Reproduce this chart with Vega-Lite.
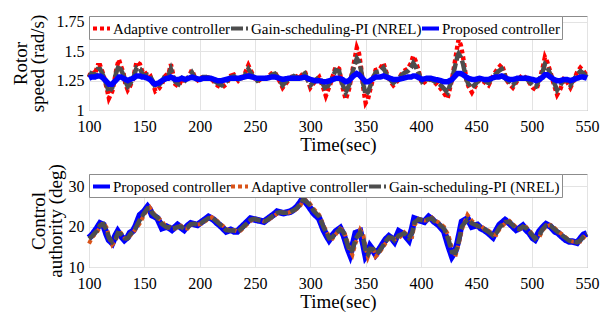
{
 "$schema": "https://vega.github.io/schema/vega-lite/v6.json",
 "padding": {"left": 10, "top": 13, "right": 5, "bottom": 2},
 "background": "white",
 "spacing": 8,
 "config": {
  "font": "Liberation Serif",
  "view": {"stroke": "#8c8c8c", "strokeWidth": 1},
  "axis": {"labelFont": "Liberation Serif", "labelFontSize": 16, "labelColor": "#000", "titleFont": "Liberation Serif", "titleFontSize": 19, "titleFontWeight": "normal", "titleColor": "#000", "gridColor": "#e3e3e3", "domain": false, "ticks": false, "labelPadding": 5, "titlePadding": 4, "titleLineHeight": 17, "labelFlush": false},
  "axisX": {"labelPadding": 8, "titlePadding": 1},
  "legend": {"columnPadding": -8, "gridAlign": "none"}
 },
 "resolve": {"scale": {"color": "independent", "strokeDash": "independent", "x": "independent", "y": "independent"}, "legend": {"color": "independent", "strokeDash": "independent"}},
 "vconcat": [
  {
   "width": 498, "height": 94,
   "data": {"values": [
{"t":100,"a":1.28,"g":1.28,"p":1.27},{"t":102,"a":1.33,"g":1.31,"p":1.28},{"t":105,"a":1.30,"g":1.29,"p":1.28},{"t":108,"a":1.38,"g":1.35,"p":1.29},{"t":110,"a":1.38,"g":1.35,"p":1.29},{"t":113,"a":1.30,"g":1.29,"p":1.27},{"t":116,"a":1.19,"g":1.21,"p":1.24},{"t":118,"a":1.10,"g":1.15,"p":1.22},{"t":121,"a":1.16,"g":1.19,"p":1.22},{"t":123,"a":1.25,"g":1.26,"p":1.24},{"t":125,"a":1.36,"g":1.33,"p":1.26},{"t":127,"a":1.43,"g":1.38,"p":1.28},{"t":129,"a":1.37,"g":1.34,"p":1.28},{"t":131,"a":1.32,"g":1.30,"p":1.27},{"t":133,"a":1.22,"g":1.24,"p":1.26},{"t":135,"a":1.17,"g":1.20,"p":1.25},{"t":137,"a":1.20,"g":1.22,"p":1.26},{"t":140,"a":1.27,"g":1.27,"p":1.27},{"t":143,"a":1.41,"g":1.36,"p":1.29},{"t":146,"a":1.39,"g":1.35,"p":1.29},{"t":148,"a":1.33,"g":1.31,"p":1.28},{"t":150,"a":1.30,"g":1.29,"p":1.28},{"t":153,"a":1.32,"g":1.30,"p":1.27},{"t":155,"a":1.30,"g":1.29,"p":1.26},{"t":158,"a":1.22,"g":1.24,"p":1.23},{"t":160,"a":1.16,"g":1.19,"p":1.22},{"t":163,"a":1.18,"g":1.21,"p":1.23},{"t":166,"a":1.22,"g":1.24,"p":1.25},{"t":168,"a":1.28,"g":1.28,"p":1.26},{"t":170,"a":1.30,"g":1.29,"p":1.27},{"t":172,"a":1.31,"g":1.30,"p":1.27},{"t":174,"a":1.39,"g":1.35,"p":1.28},{"t":176,"a":1.30,"g":1.29,"p":1.27},{"t":178,"a":1.22,"g":1.24,"p":1.26},{"t":181,"a":1.20,"g":1.22,"p":1.26},{"t":184,"a":1.27,"g":1.27,"p":1.27},{"t":187,"a":1.24,"g":1.25,"p":1.26},{"t":190,"a":1.28,"g":1.28,"p":1.27},{"t":193,"a":1.34,"g":1.32,"p":1.28},{"t":196,"a":1.27,"g":1.27,"p":1.27},{"t":200,"a":1.24,"g":1.25,"p":1.26},{"t":203,"a":1.29,"g":1.28,"p":1.27},{"t":206,"a":1.28,"g":1.28,"p":1.27},{"t":210,"a":1.27,"g":1.27,"p":1.27},{"t":213,"a":1.24,"g":1.25,"p":1.26},{"t":216,"a":1.21,"g":1.23,"p":1.25},{"t":220,"a":1.19,"g":1.21,"p":1.25},{"t":224,"a":1.22,"g":1.24,"p":1.26},{"t":228,"a":1.29,"g":1.28,"p":1.27},{"t":231,"a":1.30,"g":1.29,"p":1.27},{"t":235,"a":1.25,"g":1.26,"p":1.27},{"t":240,"a":1.29,"g":1.28,"p":1.28},{"t":244,"a":1.38,"g":1.35,"p":1.29},{"t":248,"a":1.30,"g":1.29,"p":1.28},{"t":252,"a":1.24,"g":1.25,"p":1.27},{"t":256,"a":1.27,"g":1.27,"p":1.27},{"t":260,"a":1.27,"g":1.27,"p":1.27},{"t":265,"a":1.31,"g":1.30,"p":1.28},{"t":268,"a":1.32,"g":1.31,"p":1.28},{"t":272,"a":1.25,"g":1.26,"p":1.27},{"t":275,"a":1.19,"g":1.21,"p":1.26},{"t":280,"a":1.25,"g":1.26,"p":1.27},{"t":285,"a":1.30,"g":1.29,"p":1.27},{"t":290,"a":1.27,"g":1.27,"p":1.27},{"t":295,"a":1.33,"g":1.31,"p":1.28},{"t":300,"a":1.19,"g":1.21,"p":1.26},{"t":304,"a":1.24,"g":1.25,"p":1.25},{"t":308,"a":1.28,"g":1.28,"p":1.25},{"t":312,"a":1.18,"g":1.21,"p":1.24},{"t":314,"a":1.12,"g":1.17,"p":1.24},{"t":318,"a":1.22,"g":1.24,"p":1.25},{"t":323,"a":1.37,"g":1.34,"p":1.27},{"t":326,"a":1.35,"g":1.33,"p":1.27},{"t":329,"a":1.20,"g":1.22,"p":1.26},{"t":332,"a":1.09,"g":1.15,"p":1.24},{"t":335,"a":1.18,"g":1.21,"p":1.25},{"t":339,"a":1.38,"g":1.35,"p":1.29},{"t":342,"a":1.53,"g":1.44,"p":1.31},{"t":344,"a":1.48,"g":1.41,"p":1.30},{"t":346,"a":1.35,"g":1.33,"p":1.28},{"t":348,"a":1.18,"g":1.21,"p":1.26},{"t":350,"a":1.06,"g":1.13,"p":1.24},{"t":352,"a":1.09,"g":1.15,"p":1.24},{"t":354,"a":1.17,"g":1.20,"p":1.25},{"t":357,"a":1.28,"g":1.28,"p":1.27},{"t":359,"a":1.34,"g":1.32,"p":1.28},{"t":363,"a":1.35,"g":1.33,"p":1.28},{"t":366,"a":1.40,"g":1.36,"p":1.29},{"t":369,"a":1.31,"g":1.30,"p":1.28},{"t":372,"a":1.25,"g":1.26,"p":1.27},{"t":375,"a":1.21,"g":1.23,"p":1.26},{"t":379,"a":1.25,"g":1.26,"p":1.26},{"t":384,"a":1.33,"g":1.31,"p":1.27},{"t":388,"a":1.35,"g":1.33,"p":1.28},{"t":391,"a":1.40,"g":1.36,"p":1.28},{"t":393,"a":1.46,"g":1.40,"p":1.29},{"t":395,"a":1.42,"g":1.37,"p":1.29},{"t":397,"a":1.36,"g":1.33,"p":1.28},{"t":401,"a":1.22,"g":1.24,"p":1.26},{"t":405,"a":1.25,"g":1.26,"p":1.27},{"t":409,"a":1.26,"g":1.26,"p":1.27},{"t":413,"a":1.23,"g":1.24,"p":1.26},{"t":418,"a":1.18,"g":1.21,"p":1.25},{"t":421,"a":1.14,"g":1.18,"p":1.24},{"t":424,"a":1.10,"g":1.15,"p":1.24},{"t":428,"a":1.26,"g":1.26,"p":1.26},{"t":431,"a":1.43,"g":1.38,"p":1.29},{"t":433,"a":1.55,"g":1.46,"p":1.31},{"t":434,"a":1.60,"g":1.48,"p":1.31},{"t":436,"a":1.55,"g":1.45,"p":1.31},{"t":438,"a":1.45,"g":1.39,"p":1.30},{"t":441,"a":1.26,"g":1.26,"p":1.28},{"t":443,"a":1.20,"g":1.22,"p":1.27},{"t":446,"a":1.15,"g":1.19,"p":1.26},{"t":449,"a":1.20,"g":1.22,"p":1.26},{"t":453,"a":1.26,"g":1.26,"p":1.27},{"t":457,"a":1.24,"g":1.25,"p":1.26},{"t":461,"a":1.21,"g":1.23,"p":1.26},{"t":464,"a":1.27,"g":1.27,"p":1.27},{"t":467,"a":1.32,"g":1.30,"p":1.28},{"t":470,"a":1.36,"g":1.33,"p":1.28},{"t":473,"a":1.39,"g":1.35,"p":1.29},{"t":475,"a":1.33,"g":1.31,"p":1.28},{"t":477,"a":1.26,"g":1.26,"p":1.27},{"t":480,"a":1.22,"g":1.24,"p":1.26},{"t":483,"a":1.19,"g":1.21,"p":1.26},{"t":487,"a":1.25,"g":1.26,"p":1.27},{"t":492,"a":1.30,"g":1.29,"p":1.27},{"t":496,"a":1.26,"g":1.26,"p":1.27},{"t":501,"a":1.19,"g":1.21,"p":1.26},{"t":504,"a":1.17,"g":1.20,"p":1.25},{"t":507,"a":1.25,"g":1.26,"p":1.26},{"t":510,"a":1.36,"g":1.33,"p":1.28},{"t":512,"a":1.45,"g":1.39,"p":1.30},{"t":514,"a":1.41,"g":1.37,"p":1.30},{"t":517,"a":1.32,"g":1.30,"p":1.28},{"t":520,"a":1.22,"g":1.24,"p":1.26},{"t":523,"a":1.13,"g":1.17,"p":1.25},{"t":526,"a":1.18,"g":1.21,"p":1.25},{"t":529,"a":1.26,"g":1.26,"p":1.26},{"t":532,"a":1.24,"g":1.25,"p":1.26},{"t":535,"a":1.19,"g":1.21,"p":1.25},{"t":538,"a":1.25,"g":1.26,"p":1.26},{"t":541,"a":1.32,"g":1.30,"p":1.27},{"t":544,"a":1.36,"g":1.33,"p":1.28},{"t":547,"a":1.33,"g":1.31,"p":1.28},{"t":550,"a":1.29,"g":1.28,"p":1.27}
   ]},
   "transform": [{"fold": ["a", "g", "p"], "as": ["k", "v"]}],
   "encoding": {
    "x": {"field": "t", "type": "quantitative", "scale": {"domain": [100, 550], "nice": false, "zero": false}, "axis": {"values": [100,150,200,250,300,350,400,450,500,550], "title": "Time(sec)"}},
    "y": {"field": "v", "type": "quantitative", "scale": {"domain": [1, 1.8], "nice": false, "zero": false}, "axis": {"values": [1, 1.25, 1.5, 1.75], "titlePadding": 9, "labelExpr": "datum.value == 1 ? '1' : datum.value == 1.25 ? '1.25' : datum.value == 1.5 ? '1.5' : '1.75'", "title": ["Rotor", "speed (rad/s)"]}},
    "color": {"field": "k", "type": "nominal", "scale": {"domain": ["a", "g", "p"], "range": ["#ff0000", "#4d4d4d", "#0000ff"]},
     "legend": {"orient": "none", "legendX": 0, "legendY": 0, "direction": "horizontal", "title": null, "fillColor": "white", "strokeColor": "#8c8c8c", "padding": 2, "labelFont": "Liberation Serif", "labelFontSize": 15, "labelColor": "#000", "symbolType": "stroke", "symbolSize": 289, "symbolStrokeWidth": 4, "labelOffset": 1, "columnPadding": -8, "labelLimit": 300,
      "labelExpr": "datum.label == 'a' ? 'Adaptive controller' : datum.label == 'g' ? 'Gain-scheduling-PI (NREL)' : 'Proposed controller'"}},
    "strokeDash": {"field": "k", "type": "nominal", "scale": {"domain": ["a", "g", "p"], "range": [[4, 3], [12, 3], [1, 0]]},
     "legend": {"orient": "none", "legendX": 0, "legendY": 0, "direction": "horizontal", "title": null, "fillColor": "white", "strokeColor": "#8c8c8c", "padding": 2, "labelFont": "Liberation Serif", "labelFontSize": 15, "labelColor": "#000", "symbolType": "stroke", "symbolSize": 289, "symbolStrokeWidth": 4, "labelOffset": 1, "columnPadding": -8, "labelLimit": 300,
      "labelExpr": "datum.label == 'a' ? 'Adaptive controller' : datum.label == 'g' ? 'Gain-scheduling-PI (NREL)' : 'Proposed controller'"}}
   },
   "layer": [
    {"transform": [{"filter": "datum.k == 'a'"}], "mark": {"type": "line", "strokeWidth": 4.5, "strokeCap": "butt"}},
    {"transform": [{"filter": "datum.k == 'g'"}], "mark": {"type": "line", "strokeWidth": 4.5, "strokeCap": "butt"}},
    {"transform": [{"filter": "datum.k == 'p'"}], "mark": {"type": "line", "strokeWidth": 5.5}}
   ]
  },
  {
   "width": 498, "height": 93,
   "data": {"values": [
{"t":100,"p":17.2,"o":15.8,"g":17.0},{"t":103,"p":18.0,"o":17.4,"g":17.7},{"t":107,"p":19.5,"o":18.5,"g":18.9},{"t":110,"p":20.8,"o":19.9,"g":20.3},{"t":113,"p":20.4,"o":21.0,"g":20.6},{"t":116,"p":18.0,"o":19.7,"g":19.0},{"t":118,"p":16.7,"o":17.6,"g":17.2},{"t":121,"p":15.9,"o":15.5,"g":16.2},{"t":124,"p":17.8,"o":16.5,"g":17.0},{"t":126,"p":18.8,"o":18.1,"g":18.4},{"t":129,"p":17.6,"o":18.4,"g":18.1},{"t":132,"p":16.7,"o":17.3,"g":17.1},{"t":135,"p":17.4,"o":16.9,"g":17.1},{"t":137,"p":18.4,"o":17.7,"g":18.0},{"t":140,"p":19.0,"o":18.6,"g":18.8},{"t":142,"p":20.0,"o":19.3,"g":19.6},{"t":146,"p":22.8,"o":20.8,"g":21.7},{"t":150,"p":23.8,"o":23.1,"g":23.4},{"t":153,"p":24.9,"o":24.1,"g":24.5},{"t":155,"p":24.2,"o":24.7,"g":24.5},{"t":157,"p":22.8,"o":23.8,"g":23.4},{"t":160,"p":22.4,"o":22.7,"g":22.6},{"t":162,"p":22.0,"o":22.3,"g":22.2},{"t":166,"p":19.6,"o":21.3,"g":20.6},{"t":170,"p":20.0,"o":19.7,"g":19.8},{"t":173,"p":19.6,"o":19.9,"g":19.8},{"t":175,"p":19.2,"o":19.5,"g":19.4},{"t":180,"p":20.4,"o":19.6,"g":19.9},{"t":183,"p":19.8,"o":20.2,"g":20.0},{"t":186,"p":19.2,"o":19.6,"g":19.4},{"t":189,"p":20.2,"o":19.5,"g":19.8},{"t":192,"p":20.8,"o":20.4,"g":20.6},{"t":195,"p":20.6,"o":20.7,"g":20.7},{"t":198,"p":20.4,"o":20.5,"g":20.5},{"t":201,"p":21.0,"o":20.6,"g":20.8},{"t":204,"p":21.6,"o":21.2,"g":21.4},{"t":208,"p":22.4,"o":21.8,"g":22.1},{"t":211,"p":22.0,"o":22.3,"g":22.2},{"t":213,"p":21.6,"o":21.9,"g":21.8},{"t":216,"p":20.8,"o":21.4,"g":21.1},{"t":218,"p":20.4,"o":20.7,"g":20.6},{"t":221,"p":19.6,"o":20.2,"g":19.9},{"t":224,"p":18.8,"o":19.4,"g":19.1},{"t":228,"p":19.2,"o":18.9,"g":19.0},{"t":231,"p":18.8,"o":19.1,"g":19.0},{"t":234,"p":18.8,"o":18.8,"g":18.8},{"t":237,"p":19.6,"o":19.0,"g":19.3},{"t":240,"p":20.4,"o":19.8,"g":20.1},{"t":243,"p":21.2,"o":20.6,"g":20.9},{"t":246,"p":22.0,"o":21.4,"g":21.7},{"t":249,"p":21.8,"o":21.9,"g":21.9},{"t":252,"p":21.6,"o":21.7,"g":21.7},{"t":255,"p":21.4,"o":21.5,"g":21.5},{"t":258,"p":21.2,"o":21.3,"g":21.3},{"t":261,"p":21.8,"o":21.4,"g":21.6},{"t":264,"p":22.4,"o":22.0,"g":22.2},{"t":267,"p":23.0,"o":22.6,"g":22.8},{"t":270,"p":23.7,"o":23.2,"g":23.4},{"t":273,"p":23.5,"o":23.6,"g":23.6},{"t":276,"p":23.3,"o":23.4,"g":23.4},{"t":279,"p":23.5,"o":23.4,"g":23.4},{"t":282,"p":23.7,"o":23.6,"g":23.6},{"t":285,"p":24.2,"o":23.9,"g":24.0},{"t":288,"p":24.9,"o":24.4,"g":24.6},{"t":291,"p":26.0,"o":25.2,"g":25.6},{"t":293,"p":26.9,"o":26.3,"g":26.5},{"t":295,"p":26.3,"o":26.7,"g":26.5},{"t":299,"p":24.9,"o":25.9,"g":25.5},{"t":303,"p":23.3,"o":24.4,"g":23.9},{"t":308,"p":22.0,"o":22.9,"g":22.5},{"t":310,"p":20.6,"o":21.6,"g":21.2},{"t":312,"p":19.2,"o":20.2,"g":19.8},{"t":315,"p":17.6,"o":18.7,"g":18.2},{"t":317,"p":16.7,"o":17.3,"g":17.1},{"t":320,"p":17.8,"o":17.0,"g":17.4},{"t":323,"p":18.8,"o":18.1,"g":18.4},{"t":327,"p":19.6,"o":19.5,"g":19.3},{"t":330,"p":18.0,"o":19.1,"g":18.6},{"t":332,"p":16.3,"o":17.5,"g":17.0},{"t":334,"p":14.5,"o":15.8,"g":15.2},{"t":336,"p":13.1,"o":14.1,"g":13.7},{"t":338,"p":15.0,"o":13.0,"g":14.2},{"t":341,"p":18.4,"o":16.0,"g":17.0},{"t":345,"p":18.8,"o":19.2,"g":18.6},{"t":348,"p":15.5,"o":17.8,"g":16.8},{"t":350,"p":12.7,"o":14.7,"g":13.8},{"t":352,"p":13.5,"o":12.5,"g":13.2},{"t":354,"p":15.1,"o":14.0,"g":14.5},{"t":357,"p":14.0,"o":14.8,"g":14.4},{"t":359,"p":13.1,"o":12.6,"g":13.5},{"t":362,"p":14.2,"o":13.4,"g":13.8},{"t":365,"p":15.5,"o":14.6,"g":15.0},{"t":368,"p":16.8,"o":15.9,"g":16.3},{"t":371,"p":17.6,"o":17.0,"g":17.3},{"t":374,"p":17.0,"o":17.4,"g":17.2},{"t":376,"p":16.3,"o":16.8,"g":16.6},{"t":380,"p":18.8,"o":17.1,"g":17.8},{"t":385,"p":18.0,"o":18.6,"g":18.3},{"t":389,"p":16.7,"o":17.6,"g":17.2},{"t":392,"p":19.5,"o":17.5,"g":18.4},{"t":394,"p":22.0,"o":20.3,"g":21.0},{"t":398,"p":21.6,"o":21.9,"g":21.8},{"t":403,"p":21.2,"o":21.5,"g":21.4},{"t":407,"p":22.4,"o":21.6,"g":21.9},{"t":410,"p":21.8,"o":22.2,"g":22.0},{"t":412,"p":21.2,"o":21.6,"g":21.4},{"t":416,"p":20.4,"o":21.0,"g":20.7},{"t":421,"p":18.8,"o":19.9,"g":19.4},{"t":425,"p":15.1,"o":17.7,"g":16.6},{"t":428,"p":12.7,"o":14.4,"g":13.7},{"t":431,"p":14.0,"o":12.6,"g":13.5},{"t":433,"p":15.9,"o":14.6,"g":15.1},{"t":435,"p":18.5,"o":16.7,"g":17.5},{"t":437,"p":21.2,"o":19.3,"g":20.1},{"t":442,"p":22.0,"o":22.9,"g":21.7},{"t":446,"p":20.0,"o":21.4,"g":20.8},{"t":451,"p":20.4,"o":20.1,"g":20.2},{"t":454,"p":19.6,"o":20.2,"g":19.9},{"t":457,"p":19.2,"o":19.5,"g":19.4},{"t":461,"p":18.4,"o":19.0,"g":18.7},{"t":465,"p":17.4,"o":18.1,"g":17.8},{"t":468,"p":19.0,"o":17.9,"g":18.4},{"t":471,"p":20.4,"o":19.4,"g":19.8},{"t":476,"p":21.6,"o":20.8,"g":21.1},{"t":480,"p":20.8,"o":21.4,"g":21.1},{"t":483,"p":20.0,"o":20.6,"g":20.3},{"t":486,"p":19.2,"o":19.8,"g":19.5},{"t":489,"p":19.6,"o":19.3,"g":19.4},{"t":492,"p":20.2,"o":19.8,"g":20.0},{"t":495,"p":19.2,"o":19.9,"g":19.6},{"t":498,"p":18.4,"o":19.0,"g":18.7},{"t":501,"p":17.2,"o":18.0,"g":17.7},{"t":503,"p":16.8,"o":17.1,"g":17.0},{"t":507,"p":18.8,"o":17.4,"g":18.0},{"t":510,"p":19.8,"o":19.1,"g":19.4},{"t":513,"p":20.6,"o":20.0,"g":20.3},{"t":517,"p":20.0,"o":20.4,"g":20.2},{"t":521,"p":18.8,"o":19.6,"g":19.3},{"t":524,"p":18.4,"o":18.7,"g":18.6},{"t":527,"p":17.6,"o":18.2,"g":17.9},{"t":531,"p":16.7,"o":17.3,"g":17.1},{"t":534,"p":16.3,"o":16.6,"g":16.5},{"t":537,"p":16.3,"o":16.3,"g":16.3},{"t":541,"p":16.0,"o":16.2,"g":16.1},{"t":544,"p":17.0,"o":16.3,"g":16.6},{"t":547,"p":18.0,"o":17.3,"g":17.6},{"t":550,"p":18.3,"o":18.1,"g":18.2}
   ]},
   "transform": [{"fold": ["p", "o", "g"], "as": ["k", "v"]}],
   "encoding": {
    "x": {"field": "t", "type": "quantitative", "scale": {"domain": [100, 550], "nice": false, "zero": false}, "axis": {"values": [100,150,200,250,300,350,400,450,500,550], "title": "Time(sec)"}},
    "y": {"field": "v", "type": "quantitative", "scale": {"domain": [10, 33], "nice": false, "zero": false}, "axis": {"values": [10, 20, 30], "titlePadding": 3, "title": ["Control", "authority (deg)"]}},
    "color": {"field": "k", "type": "nominal", "scale": {"domain": ["p", "o", "g"], "range": ["#0000ff", "#d95319", "#4d4d4d"]},
     "legend": {"orient": "none", "legendX": 0, "legendY": 0, "direction": "horizontal", "title": null, "fillColor": "white", "strokeColor": "#8c8c8c", "padding": 2, "labelFont": "Liberation Serif", "labelFontSize": 15, "labelColor": "#000", "symbolType": "stroke", "symbolSize": 289, "symbolStrokeWidth": 4, "labelOffset": 1, "columnPadding": -8, "labelLimit": 300,
      "labelExpr": "datum.label == 'o' ? 'Adaptive controller' : datum.label == 'g' ? 'Gain-scheduling-PI (NREL)' : 'Proposed controller'"}},
    "strokeDash": {"field": "k", "type": "nominal", "scale": {"domain": ["p", "o", "g"], "range": [[1, 0], [4, 3], [12, 3]]},
     "legend": {"orient": "none", "legendX": 0, "legendY": 0, "direction": "horizontal", "title": null, "fillColor": "white", "strokeColor": "#8c8c8c", "padding": 2, "labelFont": "Liberation Serif", "labelFontSize": 15, "labelColor": "#000", "symbolType": "stroke", "symbolSize": 289, "symbolStrokeWidth": 4, "labelOffset": 1, "columnPadding": -8, "labelLimit": 300,
      "labelExpr": "datum.label == 'o' ? 'Adaptive controller' : datum.label == 'g' ? 'Gain-scheduling-PI (NREL)' : 'Proposed controller'"}}
   },
   "layer": [
    {"transform": [{"filter": "datum.k == 'p'"}], "mark": {"type": "line", "strokeWidth": 6.5}},
    {"transform": [{"filter": "datum.k == 'o'"}], "mark": {"type": "line", "strokeWidth": 4, "strokeCap": "butt"}},
    {"transform": [{"filter": "datum.k == 'g'"}], "mark": {"type": "line", "strokeWidth": 4.5, "strokeCap": "butt"}}
   ]
  }
 ]
}
